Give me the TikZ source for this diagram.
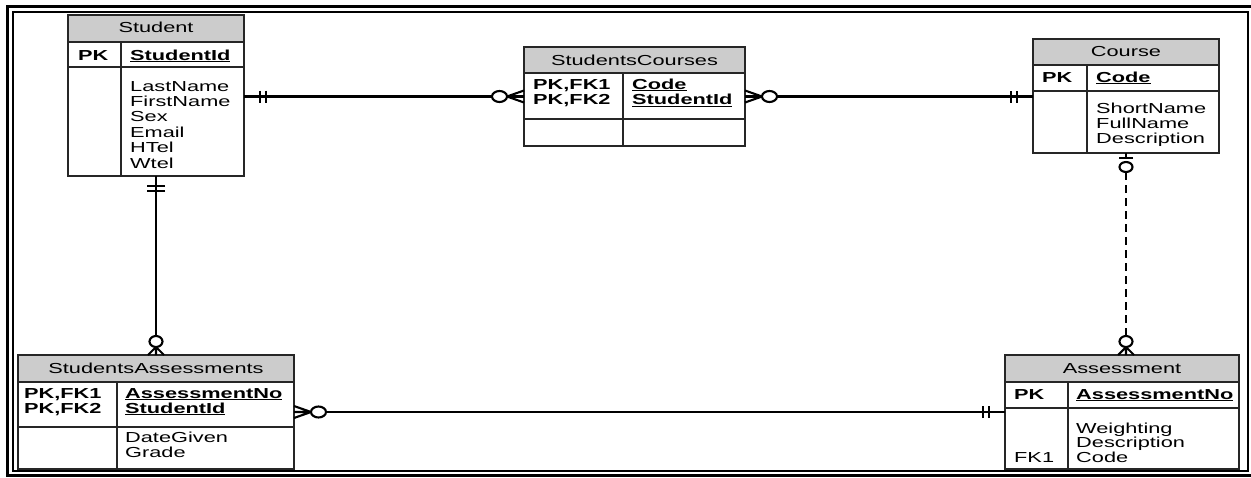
\documentclass[tikz,border=0pt]{standalone}
\usepackage{fontspec}
\setmainfont[FakeStretch=1.5]{Liberation Sans}
\usetikzlibrary{calc}

% an entity box: #1 name, #2 x0, #3 y0, #4 x1, #5 y1,
% #6 bottom of the title band, #7 bottom of the key band, #8 column divider
\newcommand\erentity[8]{%
  \fill[hdrfill] (#2,#3) rectangle (#4,#6);
  \draw[tbl] (#2,#6) -- (#4,#6) (#2,#7) -- (#4,#7) (#8,#6) -- (#8,#5);
  \node[tbl, inner sep=0pt, outer sep=0pt, minimum width={#4-#2},
        minimum height={#5-#3}, anchor=north west] (#1) at (#2,#3) {};
}
% a column of attribute names: #1 name prefix, #2 x, #3 first baseline, #4 step, #5 list
\newcommand\erlines[5]{%
  \foreach \t [count=\i from 0] in {#5}
    \node[lbl] (#1-\i) at (#2,{#3+#4*\i}) {\t};
}

\begin{document}
\begin{tikzpicture}[x=1pt,y=-1pt,
  erfont/.style={font=\fontsize{14.5}{15.4}\selectfont},
  lbl/.style={erfont, anchor=base west, inner sep=0pt},
  ttl/.style={erfont, anchor=base, inner sep=0pt},
  keytxt/.style={lbl, font=\fontsize{14.5}{15.4}\selectfont\bfseries},
  tbl/.style={draw=black!85, line width=1.4pt},
  hdrfill/.style={fill=black!20},
  conn/.style={draw=black, line width=2.1pt},
  dashedconn/.style={conn, dash pattern=on 8pt off 5pt},
  pics/mandone/.style n args={3}{code={
    \draw[conn, line width=1.7pt] (#1,-#3) -- (#1,#3) (#2,-#3) -- (#2,#3);}},
  pics/zeroone/.style n args={5}{code={
    \draw[conn] (0,0) -- (#1,0);
    \draw[conn, line width=1.7pt] (#1,-#2) -- (#1,#2);
    \draw[conn, fill=white] (#3,0) ellipse [x radius=#4, y radius=#5];}},
  pics/zeromany/.style n args={5}{code={
    \draw[conn] (0,-#2) -- (#1,0) -- (0,#2) (0,0) -- (#1,0);
    \draw[conn, fill=white] (#3,0) ellipse [x radius=#4, y radius=#5];}}
]
\useasboundingbox (0,0) rectangle (1251,477);
\fill[white] (0,0) rectangle (1251,477);

% double page frame
\draw[line width=3pt] (7,6.5) rectangle (1258,475.5);
\draw[line width=2.2pt] (13,12) rectangle (1248,471);

% ---- entities ----
\erentity{student}{68}{15}{244}{176}{42}{67}{121}
\node[ttl] (student-t) at (156,32) {Student};
\node[keytxt] (student-pk) at (78,60) {PK};
\node[keytxt] (student-k) at (130,60) {\underline{StudentId}};
\erlines{student-a}{130}{91}{15.4}{LastName,FirstName,Sex,Email,HTel,Wtel}

\erentity{sc}{524}{47}{745}{146}{73}{119}{623}
\node[ttl] (sc-t) at (634.5,65) {StudentsCourses};
\node[keytxt] (sc-pk1) at (533,89) {PK,FK1};
\node[keytxt] (sc-pk2) at (533,104.5) {PK,FK2};
\node[keytxt] (sc-k1) at (632,89) {\underline{Code}};
\node[keytxt] (sc-k2) at (632,104.5) {\underline{StudentId}};

\erentity{course}{1033}{39}{1219}{153}{65}{91}{1087}
\node[ttl] (course-t) at (1126,56) {Course};
\node[keytxt] (course-pk) at (1042,82) {PK};
\node[keytxt] (course-k) at (1096,82) {\underline{Code}};
\erlines{course-a}{1096}{113}{15.2}{ShortName,FullName,Description}

\erentity{sa}{18}{355}{294}{469}{382}{427}{117}
\node[ttl] (sa-t) at (156,373) {StudentsAssessments};
\node[keytxt] (sa-pk1) at (24,398) {PK,FK1};
\node[keytxt] (sa-pk2) at (24,413) {PK,FK2};
\node[keytxt] (sa-k1) at (125,398) {\underline{AssessmentNo}};
\node[keytxt] (sa-k2) at (125,413) {\underline{StudentId}};
\erlines{sa-a}{125}{442}{15}{DateGiven,Grade}

\erentity{assess}{1005}{355}{1239}{469}{382}{408}{1068}
\node[ttl] (assess-t) at (1122,373) {Assessment};
\node[keytxt] (assess-pk) at (1014,399) {PK};
\node[keytxt] (assess-k) at (1076,399) {\underline{AssessmentNo}};
\erlines{assess-a}{1076}{433}{14.5}{Weighting,Description,Code}
\node[lbl] (assess-fk) at (1014,462) {FK1};

% ---- relationships ----
% Student -- StudentsCourses
\draw[conn] (student.east |- sc.west) -- (sc.west);
\pic[rotate=0] at (student.east |- sc.west) {mandone={16}{22}{6}};
\pic[rotate=180] at (sc.west) {zeromany={17}{6}{24.5}{7.5}{5.5}};

% StudentsCourses -- Course
\draw[conn] (sc.east) -- (sc.east -| course.west);
\pic[rotate=0] at (sc.east) {zeromany={17}{6}{24.5}{7.5}{5.5}};
\pic[rotate=180] at (sc.east -| course.west) {mandone={16}{22}{6}};

% Student -- StudentsAssessments
\draw[conn] (student.south) -- (student.south |- sa.north);
\pic[rotate=-90] at (student.south) {mandone={10}{15}{9}};
\pic[rotate=90] at (student.south |- sa.north) {zeromany={8}{8}{13.5}{5.5}{6.5}};

% Course -- Assessment (non-identifying, dashed)
\draw[dashedconn, shorten <=19pt, shorten >=19pt] (course.south) -- (course.south |- assess.north);
\pic[rotate=-90] at (course.south) {zeroone={5}{7}{14}{5}{6.5}};
\pic[rotate=90] at (course.south |- assess.north) {zeromany={8}{8}{13.5}{5.5}{6.5}};

% StudentsAssessments -- Assessment
\draw[conn] (sa.east) -- (sa.east -| assess.west);
\pic[rotate=0] at (sa.east) {zeromany={17}{6}{24.5}{7.5}{5.5}};
\pic[rotate=180] at (sa.east -| assess.west) {mandone={16}{22}{6}};
\end{tikzpicture}
\end{document}
